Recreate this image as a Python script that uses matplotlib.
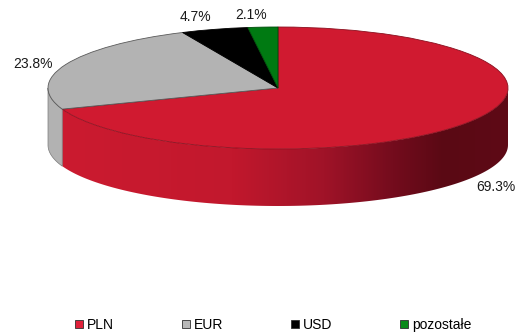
import numpy as np
import matplotlib
matplotlib.use("Agg")
import matplotlib.pyplot as plt
from matplotlib import font_manager
from matplotlib.patches import Rectangle, Polygon
from matplotlib.colors import to_rgb

# currency structure
categories = ["PLN", "EUR", "USD", "pozostałe"]
values = [69.3, 23.8, 4.7, 2.1]
top_colors = ["#d01a30", "#b3b3b3", "#000000", "#007a12"]
edge_colors = ["#8a0f1e", "#5a5a5a", "#000000", "#004a0a"]
legend_colors = ["#e0203a", "#b8b8b8", "#000000", "#0a8a1a"]

W, H = 520, 336
CX, CY = 278, 88          # centre of the top ellipse (px)
RX, RY = 230, 61          # semi-axes (px)
DEPTH = 57 / RY           # wall height in data units

names = {f.name for f in font_manager.fontManager.ttflist}
if "Liberation Sans Narrow" in names:
    FAMILY, FSIZE = "Liberation Sans Narrow", 11.5
else:
    FAMILY, FSIZE = "Liberation Sans", 10

fig = plt.figure(figsize=(W / 100, H / 100), dpi=100)
ax = fig.add_axes([0, 0, 1, 1])

wedges, _ = ax.pie(values, colors=top_colors, startangle=90, counterclock=False,
                   radius=1, wedgeprops=dict(linewidth=0.6, zorder=3))
for w, ec in zip(wedges, edge_colors):
    w.set_edgecolor(ec)

xlim = (-CX / RX, (W - CX) / RX)
ylim = ((CY - H) / RY, CY / RY)

# side wall: only the front half (theta 90..270, clockwise from top) is visible
bounds = np.concatenate([[0], np.cumsum(values) / np.sum(values) * 360])
red_stops_x = [-1.0, -0.2, 0.2, 0.5, 0.72, 1.0]
red_stops_c = [to_rgb(c) for c in ["#cc1b30", "#c2182d", "#a01328",
                                    "#740c1d", "#5a0914", "#5e0a16"]]
side_other = ["#b2b2b2", "#111111", "#006010"]

gx = np.linspace(-1, 1, 400)
red_grad = np.stack([np.interp(gx, red_stops_x, [c[k] for c in red_stops_c])
                     for k in range(3)], axis=-1)[None, :, :]

for i in range(len(values)):
    t0, t1 = max(bounds[i], 90), min(bounds[i + 1], 270)
    if t0 >= t1:
        continue
    t = np.radians(np.linspace(t0, t1, 120))
    top = np.column_stack([np.sin(t), np.cos(t)])
    bot = top[::-1] - [0, DEPTH]
    verts = np.vstack([top, bot])
    if i == 0:
        poly = Polygon(verts, closed=True, facecolor="none", edgecolor="none")
        ax.add_patch(poly)
        im = ax.imshow(red_grad, extent=(-1, 1, -1 - DEPTH, 0), aspect="auto",
                       interpolation="bilinear", zorder=2)
        im.set_clip_path(poly)
    else:
        ax.add_patch(Polygon(verts, closed=True, facecolor=side_other[i - 1],
                             edgecolor="#7a7a7a", linewidth=0.5, zorder=2))

ax.set_xlim(*xlim)
ax.set_ylim(*ylim)
ax.set_aspect("auto")
ax.axis("off")


def px(x, y):
    return x / W, 1 - y / H


label_pos = [(496, 187), (33, 64), (195, 17), (251, 15)]
for v, (lx, ly) in zip(values, label_pos):
    fig.text(*px(lx, ly), f"{v}%", ha="center", va="center",
             family=FAMILY, fontsize=FSIZE, color="#1a1a1a")

handles = [Rectangle((0, 0), 1, 1, facecolor=c, edgecolor="#303030", linewidth=0.6)
           for c in legend_colors]
fig.legend(handles, categories, loc="center left", bbox_to_anchor=px(75, 325),
           ncol=4, frameon=False, borderpad=0, borderaxespad=0,
           handlelength=0.55, handleheight=0.5, handletextpad=0.3,
           columnspacing=4.9, prop=dict(family=FAMILY, size=FSIZE))

fig.savefig("out.png", dpi=100)
